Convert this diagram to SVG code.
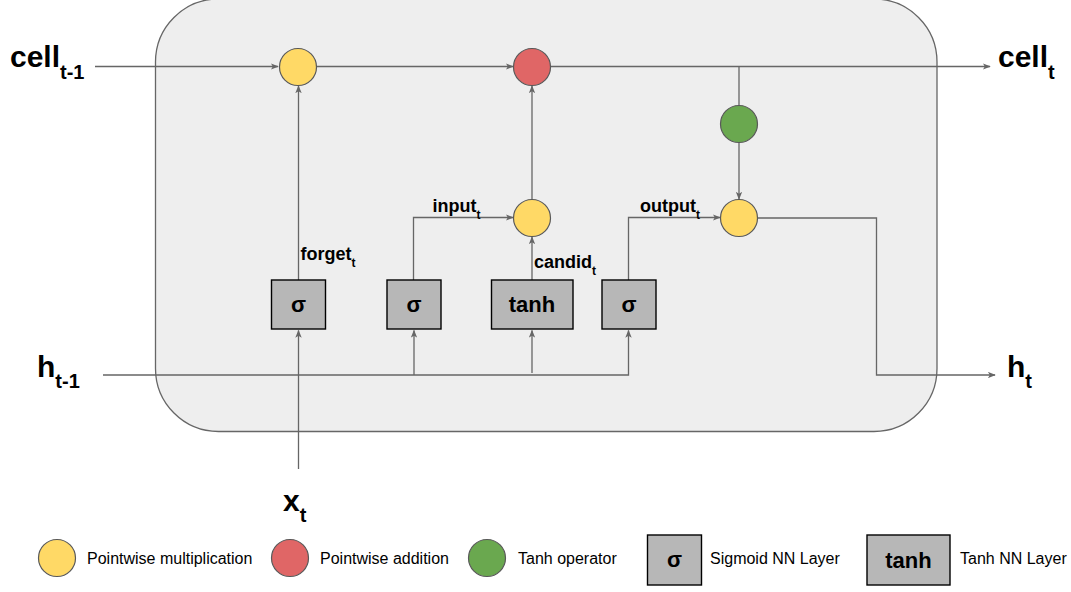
<svg xmlns="http://www.w3.org/2000/svg" width="1071" height="592" viewBox="0 0 1071 592">
  <style>
    .frame { fill: #eeeeee; stroke: #666666; stroke-width: 1.3; }
    .wire { fill: none; stroke: #666666; stroke-width: 1.3; }
    .mul { fill: #ffd966; stroke: #595959; stroke-width: 1.2; }
    .add { fill: #e06666; stroke: #595959; stroke-width: 1.2; }
    .tanhop { fill: #6aa84f; stroke: #595959; stroke-width: 1.2; }
    .layer { fill: #b7b7b7; stroke: #000000; stroke-width: 1.4; }
    .big { font-family: "Liberation Sans", Arial, sans-serif; font-weight: bold; font-size: 30px; fill: #000; }
    .bigsub { font-size: 20px; }
    .lab { font-family: "Liberation Sans", Arial, sans-serif; font-weight: bold; font-size: 18px; fill: #000; }
    .labsub { font-size: 12px; }
    .op { font-family: "Liberation Sans", Arial, sans-serif; font-weight: bold; font-size: 22px; fill: #000; text-anchor: middle; }
    .legend { font-family: "Liberation Sans", Arial, sans-serif; font-size: 16px; fill: #000; }
  </style>
  <defs>
    <marker id="arrow" viewBox="0 0 10 8" refX="9" refY="4" markerWidth="8" markerHeight="6.4" markerUnits="userSpaceOnUse" orient="auto">
      <path d="M0,0 L10,4 L0,8 L2.5,4 Z" fill="#666666"/>
    </marker>
  </defs>

  <!-- cell body -->
  <rect id="cell" class="frame" x="155.5" y="-1" width="781.5" height="432.5" rx="63" ry="63"/>

  <!-- connectors -->
  <g id="connectors">
    <!-- cell state path -->
    <path class="wire" d="M95,66.5 H278" marker-end="url(#arrow)"/>
    <path class="wire" d="M316.5,66.5 H513" marker-end="url(#arrow)"/>
    <path class="wire" d="M550.5,66.5 H990" marker-end="url(#arrow)"/>
    <!-- to tanh operator and output gate -->
    <path class="wire" d="M739,66.5 V105.5"/>
    <path class="wire" d="M739,142.5 V199" marker-end="url(#arrow)"/>
    <!-- hidden output -->
    <path class="wire" d="M757.5,218 H876.5 V375 H995" marker-end="url(#arrow)"/>
    <!-- forget gate -->
    <path class="wire" d="M298.5,280 V86" marker-end="url(#arrow)"/>
    <path class="wire" d="M298.5,469 V330.5" marker-end="url(#arrow)"/>
    <!-- input gate -->
    <path class="wire" d="M413.5,280 V217.5 H513" marker-end="url(#arrow)"/>
    <!-- candidate -->
    <path class="wire" d="M532,280 V237" marker-end="url(#arrow)"/>
    <path class="wire" d="M532,199 V86" marker-end="url(#arrow)"/>
    <!-- output gate -->
    <path class="wire" d="M628.5,280 V217.5 H720" marker-end="url(#arrow)"/>
    <!-- hidden input bus -->
    <path class="wire" d="M103,375 H628.5 V330.5" marker-end="url(#arrow)"/>
    <path class="wire" d="M414,375 V330.5" marker-end="url(#arrow)"/>
    <path class="wire" d="M532,373 V330.5" marker-end="url(#arrow)"/>
  </g>

  <!-- pointwise operators -->
  <g id="forget-mul"><circle class="mul" cx="298" cy="67" r="18.5"/></g>
  <g id="cell-add"><circle class="add" cx="532" cy="67" r="18.5"/></g>
  <g id="cell-tanh"><circle class="tanhop" cx="739" cy="124" r="18.5"/></g>
  <g id="input-mul"><circle class="mul" cx="532" cy="218" r="18.5"/></g>
  <g id="output-mul"><circle class="mul" cx="739" cy="218" r="18.5"/></g>

  <!-- NN layers -->
  <g id="forget-gate">
    <rect class="layer" x="271.5" y="280" width="54" height="49"/>
    <text class="op" x="298.5" y="312">σ</text>
  </g>
  <g id="input-gate">
    <rect class="layer" x="387" y="280" width="54" height="49"/>
    <text class="op" x="414" y="312">σ</text>
  </g>
  <g id="candidate-layer">
    <rect class="layer" x="491.5" y="280" width="81.5" height="49"/>
    <text class="op" x="532" y="312">tanh</text>
  </g>
  <g id="output-gate">
    <rect class="layer" x="602" y="280" width="54" height="49"/>
    <text class="op" x="629" y="312">σ</text>
  </g>

  <!-- gate labels -->
  <g id="gate-labels">
    <text class="lab" x="300.5" y="260">forget<tspan class="labsub" dy="7">t</tspan></text>
    <text class="lab" x="432.5" y="211.5">input<tspan class="labsub" dy="7">t</tspan></text>
    <text class="lab" x="534" y="268">candid<tspan class="labsub" dy="7">t</tspan></text>
    <text class="lab" x="640" y="212">output<tspan class="labsub" dy="7">t</tspan></text>
  </g>

  <!-- inputs and outputs -->
  <g id="io-labels">
    <text class="big" x="10" y="67">cell<tspan class="bigsub" dy="12">t-1</tspan></text>
    <text class="big" x="998" y="67">cell<tspan class="bigsub" dy="12">t</tspan></text>
    <text class="big" x="37" y="377">h<tspan class="bigsub" dy="11">t-1</tspan></text>
    <text class="big" x="1007" y="377">h<tspan class="bigsub" dy="11">t</tspan></text>
    <text class="big" x="283" y="511">x<tspan class="bigsub" dy="11">t</tspan></text>
  </g>

  <!-- legend -->
  <g id="legend">
    <circle class="mul" cx="57" cy="558" r="18.5"/>
    <text class="legend" x="87" y="564">Pointwise multiplication</text>
    <circle class="add" cx="290" cy="558" r="18.5"/>
    <text class="legend" x="320" y="564">Pointwise addition</text>
    <circle class="tanhop" cx="487" cy="558" r="18.5"/>
    <text class="legend" x="518" y="564">Tanh operator</text>
    <rect class="layer" x="647.5" y="535" width="54" height="50"/>
    <text class="op" x="674.5" y="567">σ</text>
    <text class="legend" x="710" y="564">Sigmoid NN Layer</text>
    <rect class="layer" x="867" y="535" width="83" height="50"/>
    <text class="op" x="908.5" y="568">tanh</text>
    <text class="legend" x="960" y="564">Tanh NN Layer</text>
  </g>
</svg>
